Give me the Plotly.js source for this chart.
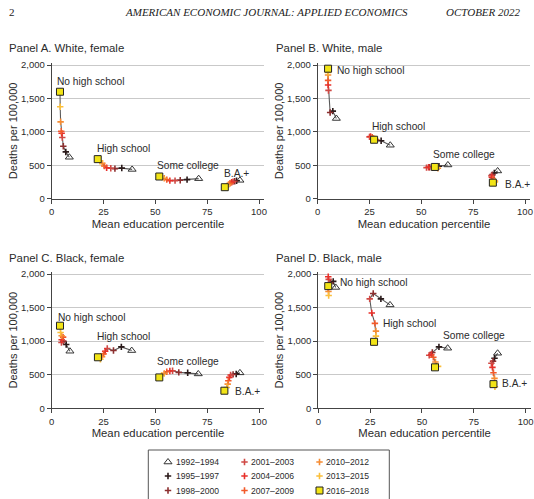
<!DOCTYPE html>
<html><head><meta charset="utf-8">
<script src="https://cdn.plot.ly/plotly-3.0.1.min.js"></script>
<style>html,body{margin:0;padding:0;background:#fff}#chart{width:534px;height:499px}</style>
</head><body><div id="chart"></div>
<script>
// ---------- data ----------
const periods = ['1992–1994','1995–1997','1998–2000','2001–2003','2004–2006','2007–2009','2010–2012','2013–2015','2016–2018'];
const groupLabels = ['No high school','High school','Some college','B.A.+'];
const panelTitles = ['Panel A. White, female','Panel B. White, male','Panel C. Black, female','Panel D. Black, male'];
const xTickVals = [0,25,50,75,100];
const yTickVals = [0,500,1000,1500,2000];

// Panel A: White, female (periods 1992–1994 ... 2016–2018)
const wfNoHsX = [8.5, 6.8, 5.6, 5.1, 4.8, 4.6, 4.3, 4.1, 4.0];
const wfNoHsY = [620, 700, 785, 915, 980, 1010, 1150, 1375, 1600];
const wfHsX   = [38.8, 33.8, 30.5, 28.5, 26.5, 25.4, 24.4, 23.4, 22.2];
const wfHsY   = [438, 458, 450, 455, 464, 489, 529, 564, 592];
const wfScX   = [70.9, 65.3, 62.0, 59.5, 57.0, 55.5, 54.3, 53.2, 51.9];
const wfScY   = [300, 285, 275, 270, 270, 285, 305, 320, 332];
const wfBaX   = [90.8, 89.2, 88.3, 87.5, 86.8, 86.0, 85.3, 84.5, 83.5];
const wfBaY   = [275, 268, 262, 255, 245, 232, 212, 192, 172];

// Panel B: White, male
const wmNoHsX = [9.0, 7.3, 6.0, 5.2, 5.0, 5.0, 5.0, 5.0, 5.0];
const wmNoHsY = [1200, 1310, 1290, 1620, 1700, 1770, 1850, 1890, 1945];
const wmHsX   = [35.0, 30.6, 28.2, 25.0, 25.5, 26.3, 27.0, 27.8, 27.2];
const wmHsY   = [800, 868, 880, 925, 930, 920, 905, 895, 882];
const wmScX   = [62.8, 58.5, 54.0, 52.5, 53.5, 55.5, 58.0, 57.5, 56.5];
const wmScY   = [505, 485, 470, 465, 470, 462, 455, 465, 475];
const wmBaX   = [86.8, 85.2, 84.3, 83.8, 84.0, 84.5, 85.5, 85.5, 84.5];
const wmBaY   = [415, 385, 360, 345, 320, 290, 265, 250, 240];

// Panel C: Black, female
const bfNoHsX = [8.8, 7.0, 5.6, 4.7, 4.8, 5.5, 4.8, 4.3, 4.0];
const bfNoHsY = [850, 950, 1000, 980, 1020, 1060, 1080, 1130, 1230];
const bfHsX   = [38.6, 33.6, 29.8, 26.8, 25.8, 25.0, 24.3, 23.5, 22.3];
const bfHsY   = [860, 915, 860, 890, 850, 810, 770, 730, 760];
const bfScX   = [70.7, 65.6, 61.3, 58.3, 57.0, 55.5, 54.3, 53.0, 51.9];
const bfScY   = [512, 530, 535, 560, 555, 545, 520, 490, 460];
const bfBaX   = [90.8, 89.0, 87.5, 86.3, 85.7, 85.2, 84.9, 84.5, 83.3];
const bfBaY   = [528, 512, 505, 495, 460, 410, 360, 310, 262];

// Panel D: Black, male
const bmNoHsX = [8.4, 7.2, 5.8, 5.0, 4.8, 4.8, 4.9, 5.0, 4.8];
const bmNoHsY = [1800, 1890, 1870, 1920, 1960, 1790, 1740, 1680, 1820];
const bmHsX   = [34.6, 30.2, 26.5, 24.8, 25.8, 27.3, 27.8, 27.8, 26.9];
const bmHsY   = [1540, 1630, 1710, 1630, 1420, 1265, 1150, 1075, 990];
const bmScX   = [62.4, 58.2, 55.0, 53.5, 54.5, 55.5, 56.5, 57.8, 56.3];
const bmScY   = [895, 915, 830, 790, 800, 760, 690, 625, 610];
const bmBaX   = [86.5, 85.0, 84.3, 83.5, 84.0, 84.5, 85.0, 85.2, 84.5];
const bmBaY   = [820, 745, 700, 670, 610, 530, 445, 320, 360];

// ---------- assembly ----------
const panels = [
  [[wfNoHsX,wfNoHsY],[wfHsX,wfHsY],[wfScX,wfScY],[wfBaX,wfBaY]],
  [[wmNoHsX,wmNoHsY],[wmHsX,wmHsY],[wmScX,wmScY],[wmBaX,wmBaY]],
  [[bfNoHsX,bfNoHsY],[bfHsX,bfHsY],[bfScX,bfScY],[bfBaX,bfBaY]],
  [[bmNoHsX,bmNoHsY],[bmHsX,bmHsY],[bmScX,bmScY],[bmBaX,bmBaY]]
];

const W = 534, H = 499;
const FONT = '"Liberation Sans", Arial, Helvetica, sans-serif';
const TXT = '#2b2b2b';
const colors = ['#333333','#2a1a1a','#8c2f2f','#d04a45','#e8302a','#f25a2a','#f68c33','#fbbf3a','#f2e416'];

function markerFor(k){
  if(k===0) return {symbol:'triangle-up-open', size:7, color:colors[0], line:{color:colors[0], width:1}};
  if(k===8) return {symbol:'square', size:7, color:colors[8], line:{color:'#222', width:1}};
  return {symbol:'cross-thin-open', size:4.6, color:colors[k], line:{color:colors[k], width:1.6}};
}

const axSuffix = ['', '2', '3', '4'];
const traces = [];
panels.forEach((groups, p) => {
  const xa = 'x' + axSuffix[p], ya = 'y' + axSuffix[p];
  groups.forEach(([gx, gy], g) => {
    traces.push({type:'scatter', mode:'lines', x:gx, y:gy, xaxis:xa, yaxis:ya,
      line:{color:'#5a5a5a', width:1.1}, showlegend:false, hoverinfo:'skip'});
  });
  periods.forEach((per, k) => {
    traces.push({type:'scatter', mode:'markers', name:per,
      x:groups.map(g => g[0][k]), y:groups.map(g => g[1][k]),
      xaxis:xa, yaxis:ya, marker:markerFor(k), showlegend:false});
  });
});

// legend (3 columns x 3 rows, column-major) drawn on an overlay axis in pixel units
const legColSym = [168, 244.5, 319.5];
const legColTxt = [175, 249.5, 325];
const legRowY = [462, 476, 490.5];
periods.forEach((per, k) => {
  const c = Math.floor(k/3), r = k%3;
  traces.push({type:'scatter', mode:'markers', x:[legColSym[c]], y:[legRowY[r]],
    xaxis:'x5', yaxis:'y5', marker:markerFor(k), showlegend:false, hoverinfo:'skip'});
});

// panel geometry (pixels)
const pxLeft = [51.7, 317.7, 51.7, 318.3];
const pxTop = [63, 63, 272, 272];
const pxBot = [198.7, 198.7, 408.3, 408.3];
const xUnit = 2.073;
const xMax = 102.5;

function xAxis(p){
  return {domain:[pxLeft[p]/W, (pxLeft[p]+xMax*xUnit)/W], anchor:'y'+axSuffix[p],
    range:[0,xMax], tickvals:xTickVals, ticks:'outside', ticklen:4, tickwidth:1, tickcolor:'#444',
    showline:true, linecolor:'#444', linewidth:1, showgrid:false, zeroline:false,
    tickfont:{family:FONT, size:9.5, color:TXT}, fixedrange:true,
    title:{text:'Mean education percentile', font:{family:FONT, size:11.3, color:TXT}, standoff:3}};
}
function yAxis(p){
  return {domain:[1-pxBot[p]/H, 1-pxTop[p]/H], anchor:'x'+axSuffix[p],
    range:[0,2030], tickvals:yTickVals, tickformat:',', ticks:'outside', ticklen:4, tickwidth:1, tickcolor:'#444',
    showline:true, linecolor:'#444', linewidth:1, showgrid:true, gridcolor:'#c9c9c9', gridwidth:1, zeroline:false,
    tickfont:{family:FONT, size:9.5, color:TXT}, fixedrange:true,
    title:{text:'Deaths per 100,000', font:{family:FONT, size:11, color:TXT}, standoff:1}};
}

const labelPos = [
  [[2.3,1750],[21.4,758],[50.3,494],[82.5,370]],
  [[8.7,1925],[25.7,1077],[55,654],[90,215]],
  [[2.7,1357],[21.4,1065],[50.3,694],[88.1,257]],
  [[10,1870],[30.6,1265],[59.8,1081],[88.1,362]]
];
const annotations = [];
labelPos.forEach((lp, p) => {
  lp.forEach(([lx, ly], g) => {
    annotations.push({xref:'x'+axSuffix[p], yref:'y'+axSuffix[p], x:lx, y:ly, text:groupLabels[g],
      showarrow:false, xanchor:'left', yanchor:'middle', borderpad:0,
      font:{family:FONT, size:10.2, color:TXT}});
  });
});
const titlePos = [[8,48],[275,47.5],[8,257.5],[275,257.5]];
panelTitles.forEach((t, p) => {
  annotations.push({xref:'paper', yref:'paper', x:titlePos[p][0]/W, y:1-titlePos[p][1]/H, text:t,
    showarrow:false, xanchor:'left', yanchor:'middle', borderpad:0,
    font:{family:FONT, size:11.4, color:TXT}});
});
// running header
const SERIF = '"Liberation Serif", "Times New Roman", serif';
annotations.push({xref:'paper', yref:'paper', x:8/W, y:1-11.7/H, text:'2', showarrow:false,
  xanchor:'left', yanchor:'middle', borderpad:0, font:{family:SERIF, size:11, color:'#222'}});
annotations.push({xref:'paper', yref:'paper', x:266/W, y:1-11.7/H, text:'<i>AMERICAN ECONOMIC JOURNAL: APPLIED ECONOMICS</i>', showarrow:false,
  xanchor:'center', yanchor:'middle', borderpad:0, font:{family:SERIF, size:11, color:'#222'}});
annotations.push({xref:'paper', yref:'paper', x:522/W, y:1-11.7/H, text:'<i>OCTOBER 2022</i>', showarrow:false,
  xanchor:'right', yanchor:'middle', borderpad:0, font:{family:SERIF, size:11, color:'#222'}});
// legend labels
periods.forEach((per, k) => {
  const c = Math.floor(k/3), r = k%3;
  annotations.push({xref:'x5', yref:'y5', x:legColTxt[c], y:legRowY[r], text:per, showarrow:false,
    xanchor:'left', yanchor:'middle', borderpad:0, font:{family:FONT, size:8.6, color:TXT}});
});

const layout = {
  width:W, height:H, margin:{l:0,r:0,t:0,b:0}, paper_bgcolor:'#fff', plot_bgcolor:'rgba(0,0,0,0)',
  showlegend:false, font:{family:FONT, color:TXT},
  xaxis:xAxis(0), yaxis:yAxis(0), xaxis2:xAxis(1), yaxis2:yAxis(1),
  xaxis3:xAxis(2), yaxis3:yAxis(2), xaxis4:xAxis(3), yaxis4:yAxis(3),
  xaxis5:{domain:[0,1], range:[0,W], visible:false, anchor:'y5', fixedrange:true},
  yaxis5:{domain:[0,1], range:[H,0], visible:false, anchor:'x5', fixedrange:true},
  annotations:annotations,
  shapes:[{type:'rect', xref:'paper', yref:'paper', x0:148.3/W, x1:389.3/W, y0:-0.05, y1:1-450/H,
    line:{color:'#555', width:1}, fillcolor:'rgba(0,0,0,0)'}]
};

Plotly.newPlot('chart', traces, layout, {staticPlot:true, displayModeBar:false});
</script></body></html>
